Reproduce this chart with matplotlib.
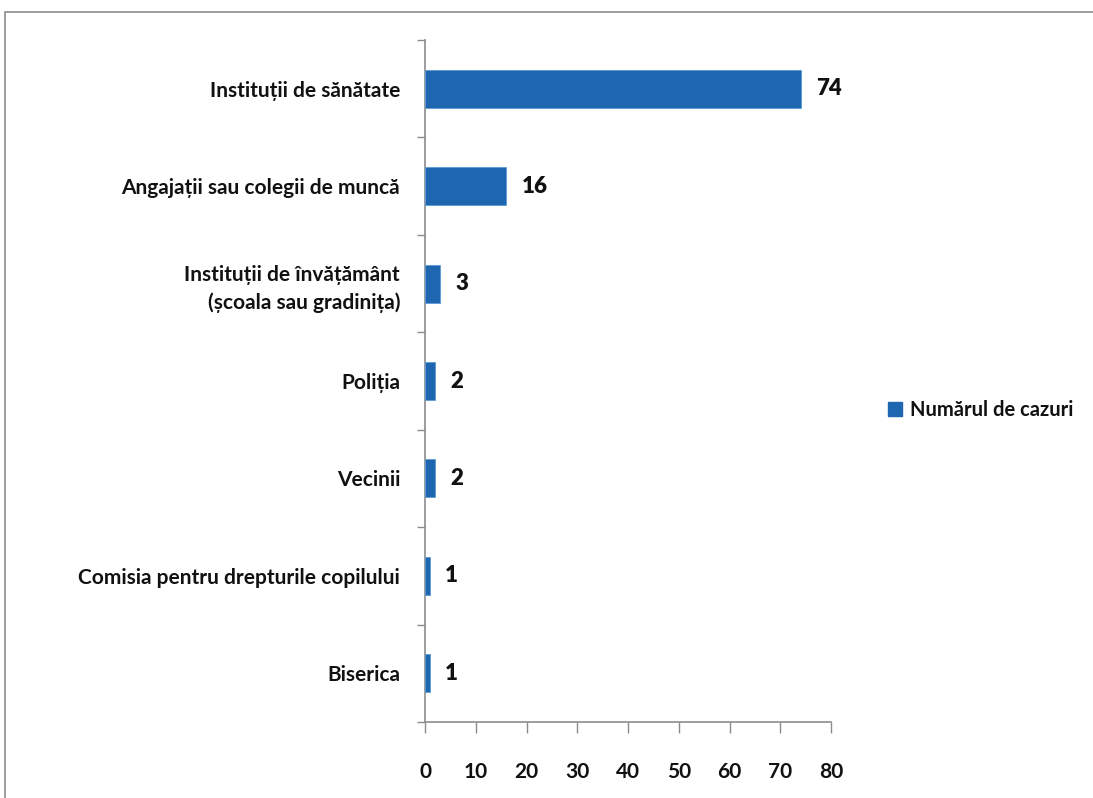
import matplotlib.pyplot as plt
from matplotlib.patches import Rectangle
from matplotlib.lines import Line2D

categories = [
    "Instituții de sănătate",
    "Angajații sau colegii de muncă",
    "Instituții de învățământ\n(școala sau gradinița)",
    "Poliția",
    "Vecinii",
    "Comisia pentru drepturile copilului",
    "Biserica",
]
values = [74, 16, 3, 2, 2, 1, 1]
series_name = "Numărul de cazuri"
xticks = [0, 10, 20, 30, 40, 50, 60, 70, 80]

plt.rcParams['font.family'] = ['Lato', 'DejaVu Sans']

W, H = 1093, 798
fig = plt.figure(figsize=(W / 100, H / 100), dpi=100)
fig.patch.set_facecolor('white')

# outer chart border
fig.patches.append(Rectangle((5 / W, -0.05), 1.1, 1 - 12 / H + 0.05, transform=fig.transFigure,
                             fill=False, edgecolor='#8c8c8c', linewidth=1.2, zorder=0))

ax = fig.add_axes([425 / W, 1 - 722 / H, (831 - 425) / W, (722 - 40) / H])
n = len(categories)
ypos = list(range(n))
bar_color = '#1f66b0'
ax.barh(ypos, values, height=0.39, color=bar_color, edgecolor='#5b9bd5', linewidth=0.6, zorder=3)
ax.set_ylim(n - 0.5, -0.5)
ax.set_xlim(0, 80)

for y, v in zip(ypos, values):
    ax.text(v + 3.0, y, str(v), va='center', ha='left', fontsize=16, fontweight='heavy', color='#111111')

# category labels
ax.set_yticks(ypos)
ax.set_yticklabels(categories, fontsize=15, fontweight='bold', color='#111111', ha='right',
                   multialignment='right', linespacing=1.45)
ax.tick_params(axis='y', length=0, pad=18)
# boundary tick marks
ax.set_yticks([i - 0.5 for i in range(n + 1)], minor=True)
ax.tick_params(axis='y', which='minor', length=6, width=1.0, color='#8c8c8c', direction='out')

ax.set_xticks(xticks)
ax.set_xticklabels([str(t) for t in xticks], fontsize=15, fontweight='bold', color='#111111')
ax.tick_params(axis='x', length=8, width=1.0, color='#8c8c8c', direction='out', pad=21)

for s in ['top', 'right']:
    ax.spines[s].set_visible(False)
for s in ['left', 'bottom']:
    ax.spines[s].set_color('#8c8c8c')
    ax.spines[s].set_linewidth(1.2)

handle = Line2D([], [], marker='s', linestyle='none', markersize=10, color=bar_color)
leg = fig.legend([handle], [series_name], loc='center left', bbox_to_anchor=(883 / W, 1 - 410 / H),
                 frameon=False, handletextpad=0.15, handlelength=1.2, borderpad=0, borderaxespad=0,
                 prop={'size': 14.5, 'weight': 'bold'})
for t in leg.get_texts():
    t.set_color('#111111')

fig.savefig('out.png', dpi=100)
